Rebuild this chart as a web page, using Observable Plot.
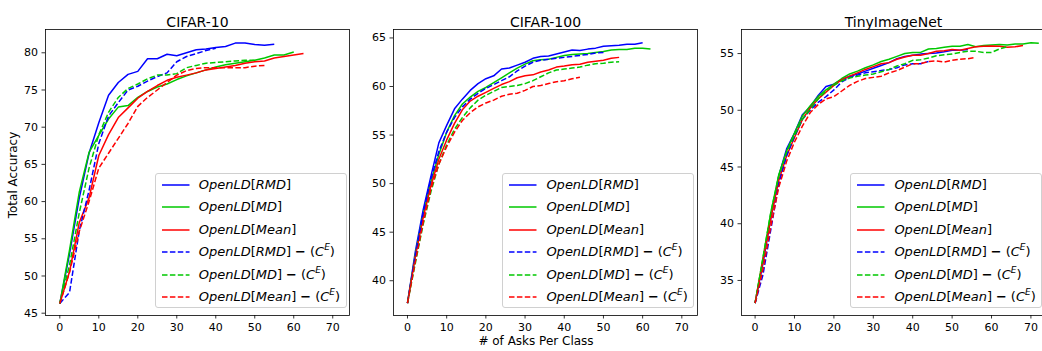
<!DOCTYPE html>
<html>
<head>
<meta charset="utf-8">
<script src="https://cdn.jsdelivr.net/npm/d3@7"></script>
<script src="https://cdn.jsdelivr.net/npm/@observablehq/plot@0.6"></script>
<style>
  body { margin: 0; background: white; }
  #fig { position: relative; width: 1042px; height: 351px; overflow: hidden; background: white; font-family: "DejaVu Sans", sans-serif; }
  .pl { position: absolute; top: 0; }
  .legend { position: absolute; top: 172.7px; width: 192px; height: 135px; border: 1px solid #d0d0d0; border-radius: 3px; background: rgba(255,255,255,0.8); box-sizing: border-box; }
  .row { position: absolute; left: 0; height: 20px; width: 100%; }
  .row svg { position: absolute; left: 5px; top: 0; }
  .row .lab { position: absolute; left: 43px; top: 1px; font-size: 13px; line-height: 18px; white-space: nowrap; color: black; }
  .lab i { font-style: italic; }
  .lab b { font-weight: bold; margin: 0 4px; }
  .lab sup { font-size: 9px; vertical-align: 6px; line-height: 0; }
  .xlabel { position: absolute; top: 334px; left: 0; width: 1072px; text-align: center; font-size: 12px; color: black; }
  .ylabel { position: absolute; left: 13px; top: 175px; font-size: 12px; color: black; transform: translate(-50%, -50%) rotate(-90deg); white-space: nowrap; }
</style>
</head>
<body>
<div id="fig"></div>
<script>
// ---------------- data ----------------
const seriesNames = ["RMD", "MD", "Mean", "RMD-CE", "MD-CE", "Mean-CE"];
const seriesColors = ["#0000ff", "#00c800", "#ff0000", "#0000ff", "#00c800", "#ff0000"];
const seriesDashed = [false, false, false, true, true, true];
const panelTitles = ["CIFAR-10", "CIFAR-100", "TinyImageNet"];
const xTicks = [0, 10, 20, 30, 40, 50, 60, 70];
const yTicks1 = [45, 50, 55, 60, 65, 70, 75, 80];
const yTicks2 = [40, 45, 50, 55, 60, 65];
const yTicks3 = [35, 40, 45, 50, 55];

// CIFAR-10 (asks per class)
const c10x = [0, 2.5, 5, 7.5, 10, 12.5, 15, 17.5, 20, 22.5, 25, 27.5, 30, 32.5, 35, 37.5, 40, 42.5, 45, 47.5, 50, 52.5, 55, 57.5, 60, 62.5];
const c10RMD = [46.3, 53, 60.5, 66.5, 70.6, 74.3, 76.0, 77.1, 77.5, 79.2, 79.2, 79.8, 79.6, 80.0, 80.4, 80.5, 80.7, 80.85, 81.3, 81.3, 81.1, 81.0, 81.15];
const c10MD = [46.3, 53.5, 61.3, 66.6, 68.9, 71.1, 72.7, 72.9, 74.0, 74.8, 75.4, 75.8, 76.4, 76.9, 77.3, 77.7, 78.1, 78.4, 78.6, 78.8, 79.0, 79.3, 79.7, 79.7, 80.1];
const c10Mean = [46.3, 50.6, 57.2, 60.5, 66.2, 69.0, 71.3, 72.6, 73.9, 74.8, 75.6, 76.3, 76.7, 77.0, 77.3, 77.7, 77.9, 78.1, 78.3, 78.6, 78.8, 78.9, 79.3, 79.5, 79.7, 79.9];
const c10RMDce = [46.3, 47.8, 56.1, 61.5, 67.8, 71.5, 73.3, 75.0, 75.5, 76.2, 76.8, 77.3, 78.8, 79.5, 79.9, 80.3, 80.6];
const c10MDce = [46.3, 51.5, 58.5, 64.5, 69.0, 72.0, 74.0, 75.2, 75.8, 76.5, 77.0, 77.0, 77.2, 78.0, 78.3, 78.6, 78.7, 78.8, 78.9, 79.0, 79.0];
const c10Meance = [46.3, 50.5, 56.0, 60.0, 64.5, 66.5, 68.5, 70.5, 72.8, 74.0, 75.0, 76.0, 77.0, 77.6, 77.9, 78.0, 78.0, 78.0, 78.0, 78.0, 78.2, 78.3];

// CIFAR-100
const c100x = [0, 2, 4, 6, 8, 10, 12, 14, 16, 18, 20, 22, 24, 26, 28, 30, 32, 34, 36, 38, 40, 42, 44, 46, 48, 50, 52, 54, 56, 58, 60, 62];
const c100RMD = [37.7, 43.0, 47.3, 50.8, 54.2, 56.0, 57.7, 58.7, 59.6, 60.3, 60.8, 61.1, 61.8, 61.9, 62.2, 62.5, 62.9, 63.1, 63.15, 63.35, 63.55, 63.75, 63.7, 63.85, 63.95, 64.15, 64.2, 64.25, 64.35, 64.35, 64.5];
const c100MD = [37.7, 42.7, 46.8, 50.2, 53.0, 55.3, 57.0, 58.2, 58.9, 59.5, 59.9, 60.4, 60.9, 61.4, 61.9, 62.3, 62.65, 62.75, 62.8, 63.0, 63.2, 63.3, 63.35, 63.4, 63.5, 63.6, 63.75, 63.8, 63.8, 63.95, 63.95, 63.85];
const c100Mean = [37.7, 42.5, 46.5, 49.8, 52.5, 54.5, 56.2, 57.6, 58.5, 59.0, 59.4, 59.8, 60.2, 60.5, 60.9, 61.1, 61.2, 61.5, 61.7, 62.0, 62.1, 62.25, 62.3, 62.5, 62.6, 62.7, 62.9, 63.0];
const c100RMDce = [37.7, 42.5, 47.0, 50.5, 53.3, 55.3, 56.8, 57.9, 58.7, 59.3, 59.8, 60.2, 60.6, 61.0, 61.6, 62.1, 62.5, 62.7, 62.8, 62.9, 63.0, 63.1, 63.2, 63.3, 63.45, 63.5];
const c100MDce = [37.7, 41.8, 45.8, 49.2, 52.0, 54.0, 55.6, 56.8, 57.8, 58.6, 59.1, 59.5, 59.9, 60.0, 60.1, 60.3, 60.6, 61.0, 61.4, 61.7, 61.8, 61.9, 62.0, 62.2, 62.35, 62.4, 62.5, 62.55];
const c100Meance = [37.7, 42.0, 46.0, 49.5, 52.0, 53.8, 55.3, 56.5, 57.3, 57.9, 58.3, 58.6, 59.0, 59.2, 59.3, 59.6, 60.0, 60.1, 60.3, 60.5, 60.6, 60.8, 60.95];

// TinyImageNet
const tinx = [0, 2, 4, 6, 8, 10, 12, 14, 16, 18, 20, 22, 24, 26, 28, 30, 32, 34, 36, 38, 40, 42, 44, 46, 48, 50, 52, 54, 56, 58, 60, 62, 64, 66, 68, 70, 72];
const tinRMD = [33.0, 36.5, 40.5, 44.2, 46.6, 48.0, 49.6, 50.3, 51.3, 52.1, 52.3, 52.7, 53.0, 53.2, 53.45, 53.7, 53.95, 54.2, 54.55, 54.75, 54.85, 54.95, 55.0, 55.05, 55.15, 55.3, 55.3, 55.35];
const tinMD = [33.0, 37.0, 41.0, 44.3, 46.4, 48.0, 49.5, 50.4, 51.2, 51.8, 52.3, 52.8, 53.2, 53.45, 53.75, 54.0, 54.3, 54.5, 54.75, 55.0, 55.1, 55.1, 55.4, 55.45, 55.55, 55.65, 55.65, 55.8, 55.6, 55.7, 55.75, 55.8, 55.75, 55.85, 55.85, 55.95, 55.9];
const tinMean = [33.0, 36.8, 40.5, 43.8, 46.0, 47.6, 49.2, 50.2, 51.0, 51.6, 52.2, 52.7, 53.0, 53.3, 53.6, 53.85, 54.1, 54.2, 54.5, 54.7, 54.85, 54.85, 55.0, 55.2, 55.25, 55.35, 55.3, 55.45, 55.6, 55.65, 55.67, 55.65, 55.55, 55.6, 55.7];
const tinRMDce = [33.0, 35.5, 39.5, 43.5, 46.0, 47.7, 49.2, 50.0, 50.7, 51.2, 51.8, 52.5, 52.9, 53.1, 53.3, 53.4, 53.5, 53.6, 53.75, 54.0, 54.1, 54.1, 54.3];
const tinMDce = [33.0, 37.0, 41.0, 44.2, 46.3, 47.8, 49.2, 50.1, 51.0, 51.7, 52.2, 52.6, 52.85, 53.0, 53.1, 53.2, 53.4, 53.6, 53.9, 54.1, 54.4, 54.45, 54.6, 54.8, 54.9, 54.95, 55.1, 55.2, 55.2, 55.1, 55.1, 55.4, 55.6];
const tinMeance = [33.0, 36.0, 39.8, 43.2, 45.5, 47.2, 48.6, 49.8, 50.5, 51.0, 51.2, 51.7, 52.2, 52.55, 52.8, 52.9, 53.0, 53.3, 53.5, 53.8, 54.1, 54.1, 54.3, 54.35, 54.25, 54.4, 54.5, 54.55, 54.65];

// ---------------- build ----------------
const panels = [
  { title: panelTitles[0], xs: c10x, ys: [c10RMD, c10MD, c10Mean, c10RMDce, c10MDce, c10Meance], xdom: [-3.67, 74.3], ydom: [44.69, 83.13], yticks: yTicks1, frameLeft: 45 },
  { title: panelTitles[1], xs: c100x, ys: [c100RMD, c100MD, c100Mean, c100RMDce, c100MDce, c100Meance], xdom: [-3.57, 74.0], ydom: [36.42, 65.87], yticks: yTicks2, frameLeft: 392.7 },
  { title: panelTitles[2], xs: tinx, ys: [tinRMD, tinMD, tinMean, tinRMDce, tinMDce, tinMeance], xdom: [-3.45, 73.7], ydom: [31.91, 57.12], yticks: yTicks3, frameLeft: 740.7 }
];

const fig = document.getElementById("fig");
const ML = 45, FW = 304, MR = 3;

panels.forEach((p) => {
  const rows = [];
  p.ys.forEach((vals, si) => {
    vals.forEach((v, i) => rows.push({ s: si, x: p.xs[i], y: v }));
  });
  const lineMarks = seriesNames.map((name, si) =>
    Plot.line(rows.filter(r => r.s === si), {
      x: "x", y: "y",
      stroke: seriesColors[si],
      strokeWidth: 1.5,
      strokeDasharray: seriesDashed[si] ? "5.5,2.4" : null,
      strokeLinejoin: "round",
      strokeLinecap: "butt"
    })
  );
  const chart = Plot.plot({
    width: ML + FW + MR,
    height: 351,
    marginLeft: ML, marginRight: MR, marginTop: 29, marginBottom: 36,
    x: { domain: p.xdom, label: null },
    y: { domain: p.ydom, label: null },
    style: { fontFamily: "DejaVu Sans", fontSize: "11px", color: "black", background: "transparent", overflow: "visible" },
    marks: [
      ...lineMarks,
      Plot.frame({ stroke: "black", strokeWidth: 0.8 }),
      Plot.axisX({ ticks: xTicks, tickSize: 3.5, tickPadding: 4, tickFormat: d => String(d), strokeWidth: 0.8, fontSize: 11, label: null }),
      Plot.axisY({ ticks: p.yticks, tickSize: 3.5, tickPadding: 4, tickFormat: d => String(d), strokeWidth: 0.8, fontSize: 11, label: null }),
      Plot.text([p.title], { frameAnchor: "top", dy: -12, fontSize: 14, fill: "black" })
    ]
  });
  chart.classList.add("pl");
  chart.style.left = (p.frameLeft - ML) + "px";
  fig.appendChild(chart);

  // legend
  const lg = document.createElement("div");
  lg.className = "legend";
  lg.style.left = (p.frameLeft + FW - 2.3 - 192) + "px";
  const labels = [
    "<i>OpenLD</i>[<i>RMD</i>]",
    "<i>OpenLD</i>[<i>MD</i>]",
    "<i>OpenLD</i>[<i>Mean</i>]",
    "<i>OpenLD</i>[<i>RMD</i>]<b>−</b>(<i>C</i><sup><i>E</i></sup>)",
    "<i>OpenLD</i>[<i>MD</i>]<b>−</b>(<i>C</i><sup><i>E</i></sup>)",
    "<i>OpenLD</i>[<i>Mean</i>]<b>−</b>(<i>C</i><sup><i>E</i></sup>)"
  ];
  seriesNames.forEach((name, si) => {
    const r = document.createElement("div");
    r.className = "row";
    r.style.top = (1.3 + 22.5 * si) + "px";
    r.innerHTML = `<svg width="30" height="20"><line x1="1" x2="28.5" y1="10" y2="10" stroke="${seriesColors[si]}" stroke-width="1.5" ${seriesDashed[si] ? 'stroke-dasharray="5.5,2.4"' : ""}/></svg><span class="lab">${labels[si]}</span>`;
    lg.appendChild(r);
  });
  fig.appendChild(lg);
});

const xl = document.createElement("div");
xl.className = "xlabel";
xl.textContent = "# of Asks Per Class";
fig.appendChild(xl);
const yl = document.createElement("div");
yl.className = "ylabel";
yl.textContent = "Total Accuracy";
fig.appendChild(yl);
</script>
</body>
</html>
